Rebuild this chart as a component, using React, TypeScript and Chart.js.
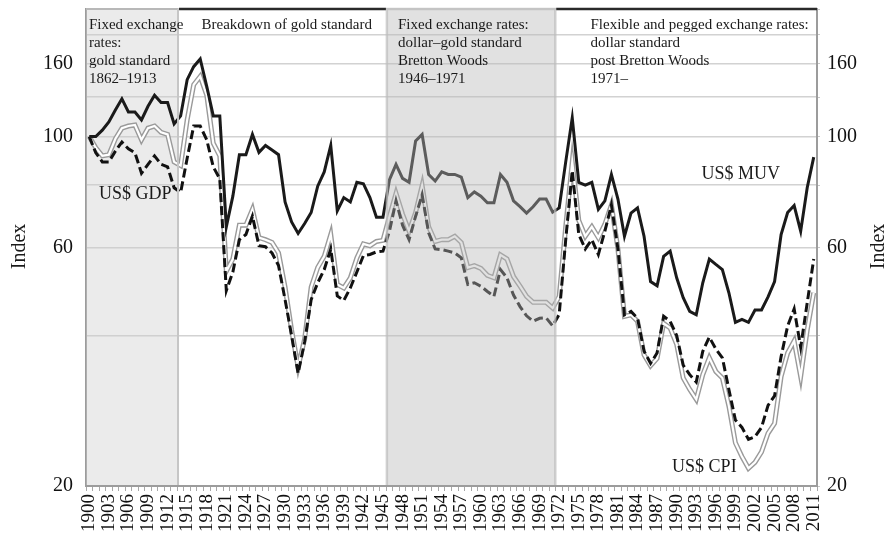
import React, { useEffect, useRef } from "react";
import { Chart, registerables } from "chart.js";

Chart.register(...registerables);

const years: string[] = Array.from({ length: 112 }, (_, i) => String(1900 + i));

const muv: number[] = [
  100, 100, 103, 107, 113, 119, 112, 112, 108, 115,
  121, 117, 117, 106, 110, 130, 138, 143, 126, 110,
  110, 66, 76, 92, 92, 101, 93, 96, 94, 92,
  74, 67.5, 64, 67, 70.5, 79.6, 85, 96, 71, 75.5,
  74, 81, 80.5, 75.5, 69, 69, 82, 88, 82.5, 81,
  98, 101, 84, 81.5, 85, 84, 84, 83, 75.5, 77.5,
  76, 73.7, 73.7, 84, 81, 74.4, 72.4, 70.3, 72.4, 75,
  75, 70.6, 72, 89, 109, 81, 80, 81, 71.5, 74.4,
  84, 75, 63.2, 70.3, 72, 63.2, 51.3, 50.3, 57.6, 59,
  52.2, 47.6, 44.7, 44, 51, 56.9, 55.5, 54.2, 48.7, 42.5,
  43.1, 42.5, 45, 45, 47.8, 51.3, 63.7, 70.5, 72.8, 64.7,
  79, 91,
];

const cpi: number[] = [
  100, 95, 91.5, 92, 99, 104, 105, 105.5, 98.5, 104,
  105, 102, 101, 89, 87.5, 108, 127, 132, 121, 97,
  91.5, 53.8, 56.9, 66.5, 66.5, 71.5, 62.8, 62.2, 61.4, 58.5,
  50, 41, 34.6, 39.4, 50, 54.7, 57.6, 63.7, 50.6, 49.8,
  52.2, 57.2, 61, 60.5, 61.7, 62, 69.3, 77, 70, 64.7,
  70.5, 79.8, 66, 61.7, 62.2, 62.2, 63.2, 61.4, 54.7, 55.2,
  54.5, 52.8, 52.2, 58, 56.9, 52.5, 50.2, 47.9, 46.6, 46.6,
  46.6, 45.4, 47.9, 66, 89, 68, 63.2, 66, 62.8, 66.8,
  73, 59.6, 43.7, 44, 42.7, 36.6, 34.8, 36, 42.3, 41.4,
  38.4, 32.9, 31.2, 29.8, 33.4, 36.1, 33.9, 32.9, 28.9, 24.4,
  22.9, 21.7, 22.3, 23.4, 25.5, 26.7, 33.1, 36.9, 39, 33.1,
  41, 48.7,
];

const gdp: number[] = [
  100, 92.8, 89, 89, 93.5, 97.5, 94.5, 92.8, 84.5, 88,
  91.5, 88, 87, 79, 77.3, 90.5, 105, 105, 98.5, 87,
  82.3, 49.2, 53.6, 62.2, 63.7, 69.3, 60.5, 60.2, 58.5, 55.2,
  47.2, 40, 33.6, 38.9, 47.2, 51, 54.2, 59.6, 48, 47,
  49.8, 53.6, 57.8, 58.1, 58.8, 59, 64.7, 74.4, 66.5, 62.2,
  69.3, 76.5, 64.2, 59.6, 59.4, 59, 58.5, 57.2, 50.6, 51,
  50.2, 49, 47.9, 54.2, 52.2, 48.2, 45.7, 43.8, 42.7, 43.3,
  43.4, 41.8, 44.1, 62.2, 85.5, 63.7, 59.6, 62.2, 58.1, 64.7,
  73, 59.6, 44, 44.7, 43.3, 37.2, 35.2, 36.9, 43.7, 42.7,
  40, 34.9, 33.4, 32.3, 37.2, 39.7, 37.6, 36.1, 31.2, 27.1,
  26.2, 24.8, 25.1, 26.2, 29, 30.3, 36.3, 41.8, 45.2, 37.9,
  46.5, 56.9,
];

const yTickValues: number[] = [20, 40, 60, 80, 100, 120, 140, 160, 180];
const yTickLabels: string[] = ["20", "", "60", "", "100", "", "160", "", ""];

const periodBoxes: { from: number; to: number }[] = [
  { from: 1899.5, to: 1913.6 },
  { from: 1945.6, to: 1971.4 },
];

const periodTexts: { year: number; lines: string[] }[] = [
  { year: 1899.95, lines: ["Fixed exchange", "rates:", "gold standard", "1862–1913"] },
  { year: 1917.2, lines: ["Breakdown of gold standard"] },
  { year: 1947.3, lines: ["Fixed exchange rates:", "dollar–gold standard", "Bretton Woods", "1946–1971"] },
  { year: 1976.8, lines: ["Flexible and pegged exchange rates:", "dollar standard", "post Bretton Woods", "1971–"] },
];

const seriesLabels: { text: string; year: number; value: number }[] = [
  { text: "US$ GDP", year: 1901.5, value: 76.5 },
  { text: "US$ MUV", year: 1993.8, value: 84 },
  { text: "US$ CPI", year: 1989.3, value: 21.8 },
];

const SERIF = '"Liberation Serif", "DejaVu Serif", serif';

const decorPlugin = {
  id: "decor",
  beforeDatasetsDraw(chart: any) {
    const { ctx, chartArea: a, scales } = chart;
    const x = scales.x;
    const px = (yr: number) => x.getPixelForValue(yr - 1900);
    const b = periodBoxes[0];
    const l = Math.max(a.left, px(b.from));
    const r = px(b.to);
    ctx.save();
    ctx.fillStyle = "rgba(205,205,205,0.4)";
    ctx.fillRect(l, a.top, r - l, a.bottom - a.top - 1);
    ctx.restore();
  },
  afterDatasetsDraw(chart: any) {
    const { ctx, chartArea: a, scales } = chart;
    const x = scales.x;
    const px = (yr: number) => x.getPixelForValue(yr - 1900);
    const b1 = periodBoxes[0];
    const b2 = periodBoxes[1];
    const l1 = Math.max(a.left, px(b1.from));
    const r1 = px(b1.to);
    const l2 = px(b2.from);
    const r2 = px(b2.to);
    ctx.save();
    ctx.fillStyle = "rgba(183,183,183,0.42)";
    ctx.fillRect(l2, a.top, r2 - l2, a.bottom - a.top - 1);
    ctx.strokeStyle = "rgba(190,190,190,0.7)";
    ctx.lineWidth = 2.5;
    ctx.beginPath();
    ctx.moveTo(l2, a.bottom - 1);
    ctx.lineTo(l2, a.top);
    ctx.lineTo(r2, a.top);
    ctx.lineTo(r2, a.bottom - 1);
    ctx.stroke();
    ctx.strokeStyle = "#b8b8b8";
    ctx.lineWidth = 2;
    ctx.beginPath();
    ctx.moveTo(l1, a.top);
    ctx.lineTo(r1, a.top);
    ctx.stroke();
    ctx.strokeStyle = "#c6c6c6";
    ctx.beginPath();
    ctx.moveTo(r1, a.top);
    ctx.lineTo(r1, a.bottom - 1);
    ctx.stroke();
    ctx.strokeStyle = "#2a2a2a";
    ctx.lineWidth = 2.5;
    ctx.beginPath();
    ctx.moveTo(r1 + 1, a.top);
    ctx.lineTo(l2 - 1, a.top);
    ctx.moveTo(r2 + 1, a.top);
    ctx.lineTo(a.right, a.top);
    ctx.stroke();
    ctx.restore();
  },
  afterDraw(chart: any) {
    const { ctx, chartArea: a, scales } = chart;
    const x = scales.x;
    const y = scales.y;
    const px = (yr: number) => x.getPixelForValue(yr - 1900);
    ctx.save();
    ctx.fillStyle = "#1a1a1a";
    ctx.textAlign = "left";
    ctx.textBaseline = "alphabetic";
    ctx.font = `15px ${SERIF}`;
    for (const t of periodTexts) {
      t.lines.forEach((line, i) => {
        ctx.fillText(line, px(t.year), a.top + 20 + i * 18);
      });
    }
    ctx.font = `18px ${SERIF}`;
    ctx.textBaseline = "middle";
    for (const s of seriesLabels) {
      ctx.fillText(s.text, px(s.year), y.getPixelForValue(s.value));
    }
    ctx.font = `20px ${SERIF}`;
    ctx.textAlign = "center";
    ctx.textBaseline = "middle";
    const midY = (a.top + a.bottom) / 2 - 1;
    ctx.save();
    ctx.translate(20, midY);
    ctx.rotate(-Math.PI / 2);
    ctx.fillText("Index", 0, 0);
    ctx.restore();
    ctx.save();
    ctx.translate(879, midY);
    ctx.rotate(-Math.PI / 2);
    ctx.fillText("Index", 0, 0);
    ctx.restore();
    ctx.restore();
  },
};

export default function App() {
  const ref = useRef<HTMLCanvasElement | null>(null);

  useEffect(() => {
    if (!ref.current) return;
    const chart = new Chart(ref.current, {
      type: "line",
      data: {
        labels: years,
        datasets: [
          {
            label: "US$ MUV",
            data: muv,
            borderColor: "#1a1a1a",
            borderWidth: 3,
            pointRadius: 0,
            tension: 0,
            yAxisID: "y",
          },
          {
            label: "US$ GDP",
            data: gdp,
            borderColor: "#111111",
            borderWidth: 3,
            borderDash: [9, 4],
            pointRadius: 0,
            tension: 0,
            yAxisID: "y",
          },
          {
            label: "US$ CPI inner",
            data: cpi,
            borderColor: "#ffffff",
            borderWidth: 2.2,
            pointRadius: 0,
            tension: 0,
            yAxisID: "y",
          },
          {
            label: "US$ CPI",
            data: cpi,
            borderColor: "#9a9a9a",
            borderWidth: 5,
            pointRadius: 0,
            tension: 0,
            yAxisID: "y",
          },
        ],
      },
      options: {
        responsive: false,
        animation: false,
        events: [],
        layout: { padding: { top: 9, left: 0, right: 0, bottom: 0 } },
        plugins: {
          legend: { display: false },
          tooltip: { enabled: false },
        },
        scales: {
          x: {
            type: "category",
            offset: true,
            grid: {
              display: true,
              drawOnChartArea: false,
              drawTicks: true,
              tickLength: 5,
              color: "#a8a8a8",
              lineWidth: 1,
              offset: true,
            },
            border: { display: true, color: "#9c9c9c", width: 2 },
            ticks: {
              autoSkip: false,
              minRotation: 90,
              maxRotation: 90,
              padding: 3,
              color: "#111",
              font: { family: SERIF, size: 19 },
              callback: (_v: any, i: number) => (i % 3 === 0 ? years[i] : ""),
            },
            afterFit: (s: any) => {
              s.height = 57;
              s.paddingLeft = 0;
              s.paddingRight = 0;
            },
          },
          y: {
            type: "logarithmic",
            position: "left",
            min: 20,
            max: 180,
            afterBuildTicks: (s: any) => {
              s.ticks = yTickValues.map((v) => ({ value: v }));
            },
            afterFit: (s: any) => {
              s.width = 86;
              s.paddingTop = 0;
              s.paddingBottom = 0;
            },
            grid: { color: "#d2d2d2", lineWidth: 1.5, drawTicks: false },
            border: { display: true, color: "#9c9c9c", width: 2 },
            ticks: {
              autoSkip: false,
              padding: 13,
              color: "#111",
              font: { family: SERIF, size: 20 },
              callback: (_v: any, i: number) => yTickLabels[i],
            },
          },
          y2: {
            type: "logarithmic",
            position: "right",
            min: 20,
            max: 180,
            afterBuildTicks: (s: any) => {
              s.ticks = yTickValues.map((v) => ({ value: v }));
            },
            afterFit: (s: any) => {
              s.width = 72;
              s.paddingTop = 0;
              s.paddingBottom = 0;
            },
            grid: { display: true, drawOnChartArea: false, drawTicks: true, tickLength: 3, color: "#c8c8c8" },
            border: { display: true, color: "#9c9c9c", width: 2 },
            ticks: {
              autoSkip: false,
              padding: 7,
              color: "#111",
              font: { family: SERIF, size: 20 },
              callback: (_v: any, i: number) => yTickLabels[i],
            },
          },
        },
      },
      plugins: [decorPlugin],
    } as any);
    return () => chart.destroy();
  }, []);

  return (
    <div style={{ position: "absolute", left: 0, top: 0, width: 889, height: 543, background: "#fff" }}>
      <canvas ref={ref} width={889} height={543} style={{ display: "block" }} />
    </div>
  );
}
